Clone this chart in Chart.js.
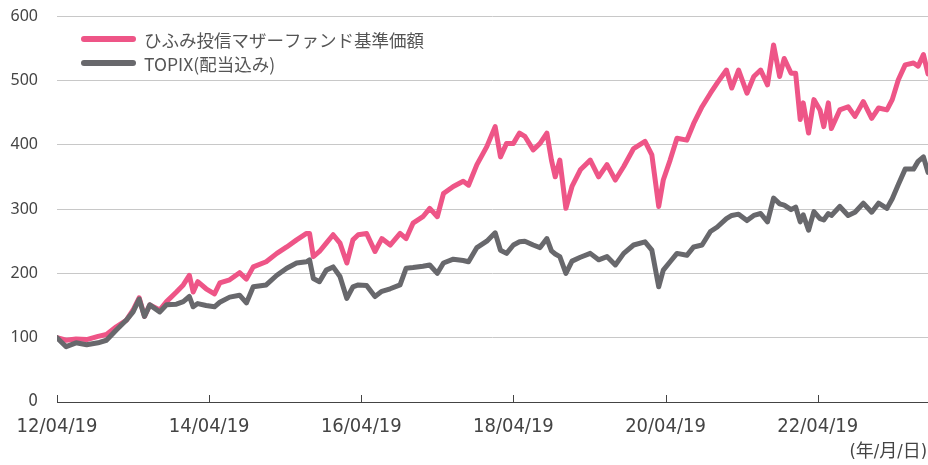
<!DOCTYPE html>
<html lang="ja">
<head>
<meta charset="utf-8">
<title>ひふみ投信マザーファンド基準価額</title>
<script src="https://cdn.jsdelivr.net/npm/chart.js@4.4.1/dist/chart.umd.min.js"></script>
<style>
  html, body { margin: 0; padding: 0; background: #fff; }
  #wrap { width: 928px; height: 465px; }
</style>
</head>
<body>
<div id="wrap"><canvas id="nav-chart" width="928" height="465"></canvas></div>
<script>
// dates as decimal years (2012/04/19 = 2012.30)
const years = [
  2012.30, 2012.42, 2012.55, 2012.69, 2012.84, 2012.95, 2013.08, 2013.21, 2013.30, 2013.38,
  2013.45, 2013.52, 2013.65, 2013.74, 2013.87, 2013.96, 2014.04, 2014.09, 2014.15, 2014.26,
  2014.37, 2014.44, 2014.57, 2014.70, 2014.79, 2014.88, 2015.05, 2015.19, 2015.32, 2015.45,
  2015.58, 2015.62, 2015.67, 2015.75, 2015.84, 2015.93, 2016.02, 2016.11, 2016.19, 2016.26,
  2016.37, 2016.48, 2016.57, 2016.68, 2016.81, 2016.89, 2016.98, 2017.11, 2017.20, 2017.30,
  2017.38, 2017.51, 2017.64, 2017.71, 2017.82, 2017.95, 2018.06, 2018.13, 2018.21, 2018.30,
  2018.38, 2018.45, 2018.56, 2018.65, 2018.74, 2018.80, 2018.85, 2018.91, 2018.99, 2019.07,
  2019.18, 2019.31, 2019.42, 2019.53, 2019.64, 2019.75, 2019.88, 2020.03, 2020.12, 2020.21,
  2020.27, 2020.36, 2020.45, 2020.58, 2020.67, 2020.78, 2020.89, 2020.98, 2021.10, 2021.17,
  2021.26, 2021.37, 2021.46, 2021.55, 2021.64, 2021.72, 2021.80, 2021.86, 2021.95, 2022.01,
  2022.07, 2022.11, 2022.18, 2022.25, 2022.33, 2022.38, 2022.44, 2022.48, 2022.59, 2022.70,
  2022.79, 2022.90, 2023.01, 2023.10, 2023.21, 2023.28, 2023.36, 2023.45, 2023.56, 2023.62,
  2023.69, 2023.75
];

const hifumi = [
  100, 96, 98, 97, 102, 105, 117, 127, 143, 162,
  133, 151, 143, 156, 171, 182, 197, 171, 187, 176,
  168, 185, 190, 201, 191, 210, 218, 231, 241, 252,
  262, 262, 226, 234, 247, 260, 247, 216, 252, 260,
  262, 234, 254, 244, 262, 254, 278, 288, 301, 288,
  324, 335, 343, 337, 369, 397, 428, 381, 402, 402,
  418, 413, 392, 402, 418, 376, 350, 376, 301, 335,
  361, 376, 350, 369, 345, 366, 394, 405, 384, 304,
  345, 376, 410, 407, 433, 459, 480, 496, 516, 488,
  516, 480, 506, 516, 493, 555, 506, 534, 511, 511,
  439, 465, 418, 470, 454, 428, 465, 425, 454, 459,
  444, 467, 441, 457, 454, 470, 501, 524, 527, 522,
  540, 510
];

const topix = [
  100, 86, 92, 89, 92, 96, 112, 127, 140, 160,
  133, 151, 140, 151, 152, 156, 164, 148, 153, 150,
  148, 155, 163, 166, 154, 179, 182, 197, 208, 216,
  218, 221, 192, 187, 205, 210, 195, 161, 179, 182,
  181, 164, 172, 176, 182, 208, 209, 211, 213, 200,
  216, 222, 220, 218, 240, 250, 263, 236, 231, 244,
  249, 250, 244, 240, 254, 235, 230, 226, 200, 219,
  225, 231, 221, 226, 213, 231, 244, 249, 236, 179,
  205, 218, 231, 228, 241, 244, 265, 272, 285, 290,
  292, 282, 290, 293, 280, 317, 308, 306, 299, 303,
  280, 291, 267, 296, 285, 283, 293, 290, 304, 290,
  295, 309, 295, 309, 301, 316, 338, 362, 362, 374,
  381, 357
];

const tickYears = [2012.30, 2014.30, 2016.30, 2018.30, 2020.30, 2022.30];
const tickLabels = ['12/04/19', '14/04/19', '16/04/19', '18/04/19', '20/04/19', '22/04/19'];
const unitNote = '(年/月/日)';

const narrowFont = '"DejaVu Sans Condensed", "Liberation Sans Narrow", "Noto Sans CJK JP", sans-serif';
const mainFont = '"Noto Sans", "Noto Sans CJK JP", sans-serif';

const ctx = document.getElementById('nav-chart').getContext('2d');

const extrasPlugin = {
  id: 'extras',
  afterDraw(chart) {
    const c = chart.ctx;
    const xs = chart.scales.x;
    const area = chart.chartArea;
    c.save();

    // tick marks pointing up from the axis line
    c.strokeStyle = '#444';
    c.lineWidth = 1;
    tickYears.forEach(v => {
      const px = Math.round(xs.getPixelForValue(v)) + 0.5;
      c.beginPath();
      c.moveTo(px, area.bottom);
      c.lineTo(px, area.bottom - 7);
      c.stroke();
    });

    // unit note bottom right
    c.font = '18px ' + narrowFont;
    c.fillStyle = '#444';
    c.textAlign = 'right';
    c.textBaseline = 'middle';
    c.fillText(unitNote, chart.width - 1, 452);

    // legend
    const rows = [39, 63];
    c.textAlign = 'left';
    c.font = '17.5px "Noto Sans CJK JP", sans-serif';
    chart.data.datasets.forEach((ds, i) => {
      const y = rows[i];
      c.strokeStyle = ds.borderColor;
      c.lineWidth = 6;
      c.lineCap = 'round';
      c.beginPath();
      c.moveTo(84, y);
      c.lineTo(133, y);
      c.stroke();
      c.fillStyle = '#555';
      c.fillText(ds.label, 144, y + 1);
    });

    c.restore();
  }
};

const config = {
  type: 'line',
  data: {
    datasets: [{
      label: 'ひふみ投信マザーファンド基準価額',
      data: years.map((x, i) => ({ x: x, y: hifumi[i] })),
      borderColor: '#ee5587',
      backgroundColor: '#ee5587',
      borderWidth: 5,
      pointRadius: 0,
      borderJoinStyle: 'round',
      borderCapStyle: 'round',
      fill: false,
      order: 2
    }, {
      label: 'TOPIX(配当込み)',
      data: years.map((x, i) => ({ x: x, y: topix[i] })),
      borderColor: '#68686c',
      backgroundColor: '#68686c',
      borderWidth: 5,
      pointRadius: 0,
      borderJoinStyle: 'round',
      borderCapStyle: 'round',
      fill: false,
      order: 1
    }]
  },
  options: {
    responsive: false,
    animation: false,
    layout: {
      padding: { top: 0, right: 0, bottom: 0, left: 0 }
    },
    plugins: {
      legend: { display: false },
      tooltip: { enabled: false }
    },
    scales: {
      x: {
        type: 'linear',
        min: 2012.30,
        max: 2023.75,
        afterBuildTicks: scale => {
          scale.ticks = tickYears.map(v => ({ value: v }));
        },
        afterFit: scale => {
          scale.height = 63;
        },
        grid: { display: false, drawTicks: false },
        border: { display: true, color: '#444', width: 1 },
        ticks: {
          autoSkip: false,
          maxRotation: 0,
          minRotation: 0,
          padding: 13,
          color: '#444',
          font: { family: narrowFont, size: 20 },
          callback: (value, index) => tickLabels[index]
        }
      },
      y: {
        min: 0,
        max: 600,
        afterFit: scale => {
          scale.width = 57;
          scale.paddingTop = 16;
          scale.paddingBottom = 0;
        },
        grid: {
          drawTicks: false,
          color: c => c.tick && c.tick.value === 0 ? 'rgba(0,0,0,0)' : '#c8c8c8',
          lineWidth: 1
        },
        border: { display: false },
        ticks: {
          stepSize: 100,
          padding: 19,
          color: '#444',
          font: c => c.tick && c.tick.value === 0
            ? { family: narrowFont, size: 17 }
            : { family: mainFont, size: 16 }
        }
      }
    }
  },
  plugins: [extrasPlugin]
};

const navChart = new Chart(ctx, config);
</script>
</body>
</html>
